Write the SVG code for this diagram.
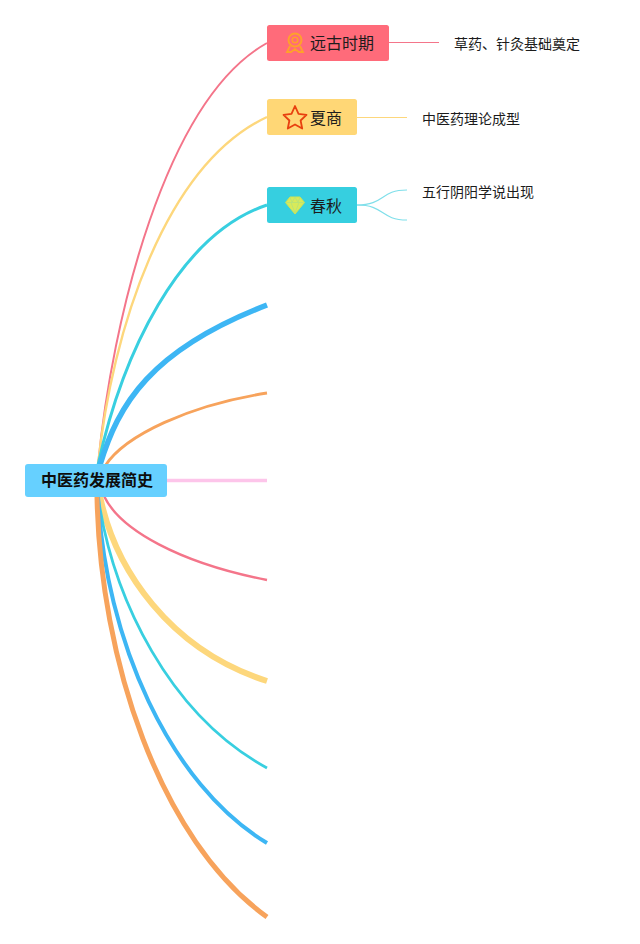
<svg xmlns="http://www.w3.org/2000/svg" width="640" height="944" viewBox="0 0 640 944">
<style>
text{font-family:"Noto Sans CJK SC","Liberation Sans",sans-serif;fill:#1c1c1c}
.t{font-size:16px}.s{font-size:14px}.r{font-size:16px;font-weight:700;fill:#0d0d0d}
.c{fill:none;stroke-linecap:butt}
</style>
<rect width="640" height="944" fill="#fff"/>
<g id="connectors">
<path class="c" d="M98 465C112 320 165 100 267 43" stroke="#f4758a" stroke-width="2"/>
<path class="c" d="M98 465C112 330 165 165 267 117" stroke="#fdd77c" stroke-width="2.400"/>
<path class="c" d="M98 465C122 355 178 235 267 205" stroke="#38cfe0" stroke-width="3"/>
<path class="c" d="M100 465C118 405 150 350 267 305" stroke="#3db6f4" stroke-width="5.500"/>
<path class="c" d="M105 466C125 435 190 405 267 393" stroke="#f7a35c" stroke-width="2.800"/>
<path class="c" d="M167 480.500H267" stroke="#fdc5ea" stroke-width="3.500"/>
<path class="c" d="M104 496C120 530 180 563 267 580" stroke="#f4758a" stroke-width="2.400"/>
<path class="c" d="M100 496C115 570 170 650 267 681" stroke="#fdd77c" stroke-width="6"/>
<path class="c" d="M98 496C113 600 170 715 267 768" stroke="#38cfe0" stroke-width="2.800"/>
<path class="c" d="M98 496C105 640 170 785 267 843" stroke="#3db6f4" stroke-width="4"/>
<path class="c" d="M97 496C100 660 160 840 267 917" stroke="#f7a35c" stroke-width="5"/>
<path class="c" d="M389 42.500H439" stroke="#f4758a" stroke-width="1"/>
<path class="c" d="M357 117.500H407" stroke="#fdd77c" stroke-width="1"/>
<path class="c" d="M357 205C385 205 380 190 407 190" stroke="#7fdfea" stroke-width="1.200"/>
<path class="c" d="M357 205C385 205 380 220 407 220" stroke="#7fdfea" stroke-width="1.200"/>
</g>
<g id="root"><rect x="25" y="464" width="142" height="33" rx="3" fill="#66d0ff"/><text class="r" x="97" y="486" text-anchor="middle">中医药发展简史</text></g>
<g id="n1"><rect x="267" y="25" width="122" height="36" rx="2.500" fill="#ff6b7a"/>
<circle cx="295" cy="40" r="6.500" fill="none" stroke="#ffa12b" stroke-width="2"/><circle cx="295" cy="40" r="2.800" fill="none" stroke="#ffa12b" stroke-width="1.500"/><path d="M290 46L287 52H291L295 49L299 52H303L300 46" fill="none" stroke="#ffa12b" stroke-width="1.800"/>
<text class="t" x="310" y="48.500">远古时期</text></g>
<g id="n1a"><text class="s" x="454" y="49">草药、针灸基础奠定</text></g>
<g id="n2"><rect x="267" y="99" width="90" height="36" rx="2.500" fill="#ffd776"/>
<path d="M295 106L298.500 113.800L306.500 114.800L300.600 120.500L302.200 128.500L295 124.500L287.800 128.500L289.400 120.500L283.500 114.800L291.500 113.800Z" fill="none" stroke="#e8400f" stroke-width="1.800" stroke-linejoin="round"/>
<text class="t" x="310" y="124">夏商</text></g>
<g id="n2a"><text class="s" x="422" y="124">中医药理论成型</text></g>
<g id="n3"><rect x="267" y="187" width="90" height="36" rx="2.500" fill="#36cfe0"/>
<path d="M290 197H300L304.500 202.500L295 214L285.500 202.500Z" fill="#d8ea5a" stroke="#cfe352" stroke-width="1"/><path d="M286 202.500H304M291 202.500L295 213L299 202.500M290 197L292 202.500L295 197L298 202.500L300 197" fill="none" stroke="#b5e27a" stroke-width="0.800"/>
<text class="t" x="310" y="212">春秋</text></g>
<g id="n3a"><text class="s" x="422" y="196.500">五行阴阳学说出现</text></g>
</svg>
